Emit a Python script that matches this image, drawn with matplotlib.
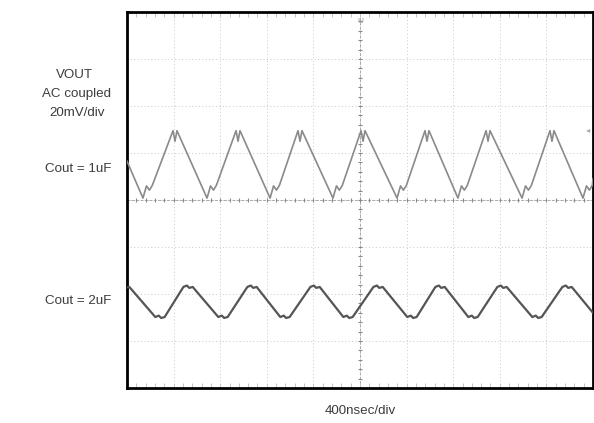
import numpy as np
import matplotlib.pyplot as plt

# scope settings
NS_PER_DIV = 400
MV_PER_DIV = 20
N_XDIV = 10
N_YDIV = 8

# Cout = 1uF trace: trough / peak instants (ns) and levels (mV)
TOP_TROUGH_NS = [137, 687, 1228, 1768, 2318, 2841, 3391, 3914]
TOP_PEAK_NS = [412, 953, 1485, 2026, 2575, 3099, 3648]
TOP_LOW_MV = 0.8
TOP_HIGH_MV = 29.5
TOP_START_MV = 16.5
TOP_END_MV = 9.0
# switching glitch just after each trough: (offset ns, level mV)
TOP_KICK = [(30, 6.0), (55, 4.2), (80, 6.2)]
# small notch at each peak: (offset ns, level mV)
TOP_NOTCH = [(-17, 29.5), (0, 25.0), (17, 29.5)]

# Cout = 2uF trace: flat-topped peaks and troughs
BOT_PEAK_NS = [524, 1073, 1614, 2155, 2687, 3219, 3777]
BOT_TROUGH_NS = [283, 824, 1356, 1897, 2446, 2970, 3519]
BOT_HIGH_MV = -37.0
BOT_LOW_MV = -49.8
BOT_START_MV = -37.2
BOT_END_MV = -48.0
BOT_FLAT_NS = 40


def top_trace():
    pts = [(0, TOP_START_MV)]
    events = sorted([(t, "lo") for t in TOP_TROUGH_NS] + [(t, "hi") for t in TOP_PEAK_NS])
    for t, kind in events:
        if kind == "lo":
            pts.append((t, TOP_LOW_MV))
            pts += [(t + dt, v) for dt, v in TOP_KICK]
        else:
            pts += [(t + dt, v) for dt, v in TOP_NOTCH]
    pts.append((N_XDIV * NS_PER_DIV, TOP_END_MV))
    t, v = zip(*pts)
    return np.array(t), np.array(v)


def bottom_trace():
    pts = [(0, BOT_START_MV), (20, BOT_HIGH_MV)]
    events = sorted([(t, BOT_LOW_MV) for t in BOT_TROUGH_NS] + [(t, BOT_HIGH_MV) for t in BOT_PEAK_NS])
    for t, lvl in events:
        pts += [(t - BOT_FLAT_NS, lvl), (t - 10, lvl + 0.6), (t + 10, lvl - 0.4), (t + BOT_FLAT_NS, lvl)]
    pts.append((N_XDIV * NS_PER_DIV, BOT_END_MV))
    t, v = zip(*pts)
    return np.array(t), np.array(v)


plt.rcParams['font.family'] = ['Liberation Sans', 'DejaVu Sans']

fig = plt.figure(figsize=(5.94, 4.23), dpi=100)
ax = fig.add_axes([127 / 594, 1 - 388 / 423, 466 / 594, 376 / 423])

x_max = N_XDIV * NS_PER_DIV
y_half = N_YDIV / 2 * MV_PER_DIV
ax.set_xlim(0, x_max)
ax.set_ylim(-y_half, y_half)

# graticule
for k in range(1, N_XDIV):
    ax.axvline(k * NS_PER_DIV, color='#c8c8c8', lw=0.7, ls=(0, (1, 2.5)), zorder=1)
for k in range(1, N_YDIV):
    ax.axhline(k * MV_PER_DIV - y_half, color='#c8c8c8', lw=0.7, ls=(0, (1, 2.5)), zorder=1)

# centre axes with fine ticks
xc, yc = x_max / 2, 0
ax.axvline(xc, color='#aaaaaa', lw=0.7, ls=(0, (3, 1.5)), zorder=1)
ax.axhline(yc, color='#aaaaaa', lw=0.7, ls=(0, (3, 1.5)), zorder=1)
fine_x = np.arange(0, x_max + 1, NS_PER_DIV / 5)
fine_y = np.arange(-y_half, y_half + 1, MV_PER_DIV / 5)
ax.plot(fine_x, np.full_like(fine_x, yc), ls='none', marker='|', ms=3.5, color='#888888', mew=0.8, zorder=2)
ax.plot(np.full_like(fine_y, xc), fine_y, ls='none', marker='_', ms=3.5, color='#888888', mew=0.8, zorder=2)
# edge ticks
ax.plot(fine_x, np.full_like(fine_x, -y_half + 1.2), ls='none', marker='|', ms=3, color='#c4c4c4', mew=0.7, zorder=2)
ax.plot(fine_x, np.full_like(fine_x, y_half - 1.2), ls='none', marker='|', ms=3, color='#c4c4c4', mew=0.7, zorder=2)

# traces
t1, v1 = top_trace()
ax.plot(t1, v1, color='#8a8a8a', lw=1.2, zorder=3)
t2, v2 = bottom_trace()
ax.plot(t2, v2, color='#555555', lw=1.6, zorder=3)

# trigger and channel markers
ax.text(xc, y_half - 2.5, 'U', ha='center', va='top', fontsize=6, color='#999999')
ax.text(x_max - 25, TOP_HIGH_MV, '\u25c2', ha='right', va='center', fontsize=6, color='#aaaaaa')

ax.set_xticks([])
ax.set_yticks([])
for side in ax.spines.values():
    side.set_linewidth(2)
    side.set_color('black')

# labels left of the screen
txt = dict(ha='center', va='center', fontsize=9.6, color='#3c3c3c')
fig.text(75 / 594, 1 - 75 / 423, 'VOUT', **txt)
fig.text(76 / 594, 1 - 94 / 423, 'AC coupled', **txt)
fig.text(77 / 594, 1 - 113 / 423, '20mV/div', **txt)
fig.text(78 / 594, 1 - 169 / 423, 'Cout = 1uF', **txt)
fig.text(78 / 594, 1 - 301 / 423, 'Cout = 2uF', **txt)
fig.text(360 / 594, 1 - 411 / 423, '400nsec/div', **txt)

fig.savefig('out.png', dpi=100)
